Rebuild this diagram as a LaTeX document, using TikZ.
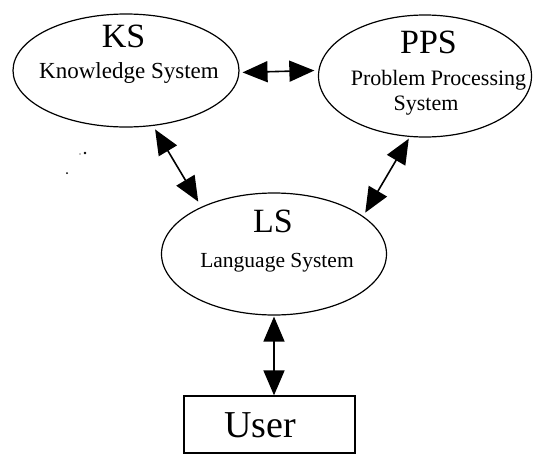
\documentclass[tikz,border=0pt]{standalone}
\usepackage{fontspec}
\setmainfont{Liberation Serif}
\usetikzlibrary{shapes.geometric,arrows.meta}

\tikzset{
  sysell/.style={draw, line width=1.2pt, ellipse, inner sep=0pt},
  userbox/.style={draw, line width=1.3pt, rectangle, inner sep=0pt,
                  minimum width=171pt, minimum height=57pt},
  bigname/.style={inner sep=0pt, anchor=base, font=\fontsize{34}{36}\selectfont},
  fullname/.style={inner sep=0pt, anchor=base, font=\fontsize{22}{24}\selectfont},
  link/.style={line width=1.6pt,
               {Triangle[length=25pt,width=21pt]}-{Triangle[length=25pt,width=21pt]}},
}

\begin{document}
\begin{tikzpicture}[x=1pt,y=-1pt]
  \useasboundingbox (0,0) rectangle (533,458);

  % the three subsystems and the user
  \node[sysell, minimum width=226pt, minimum height=113pt] (ks)  at (126,70.5) {};
  \node[sysell, minimum width=213pt, minimum height=122pt] (pps) at (425,76) {};
  \node[sysell, minimum width=225pt, minimum height=122pt] (ls)  at (274,254) {};
  \node[userbox] (user) at (269.5,424.5) {};

  % labels
  \node[bigname]  (kst)   at (123.5,47)  {KS};
  \node[fullname, font=\fontsize{23}{25}\selectfont] (ksl) at (129,78) {Knowledge System};
  \node[bigname]  (ppst)  at (428.5,53)  {PPS};
  \node[fullname] (ppsl1) at (438.5,85)  {Problem Processing};
  \node[fullname] (ppsl2) at (426,110)   {System};
  \node[bigname]  (lst)   at (273,232)   {LS};
  \node[fullname, font=\fontsize{21.5}{24}\selectfont] (lsl) at (277,267) {Language System};
  \node[bigname, font=\fontsize{38}{40}\selectfont] (usert) at (260,437) {User};

  % two-way links
  \draw[link, shorten <=3pt, shorten >=4pt] (ks.-1.5) -- (pps.177);
  \draw[link, shorten <=4pt, shorten >=6pt] (ks.-64) -- (ls.147);
  \draw[link, shorten <=2pt, shorten >=4pt] (pps.-104) -- (ls.23);
  \draw[link, shorten <=1pt, shorten >=0pt] (ls.south) -- (ls.south |- user.north);

  % specks
  \fill (85,153) circle (1.3pt);
  \fill (80,154) circle (0.7pt);
  \fill (67,173) circle (1pt);
\end{tikzpicture}
\end{document}
